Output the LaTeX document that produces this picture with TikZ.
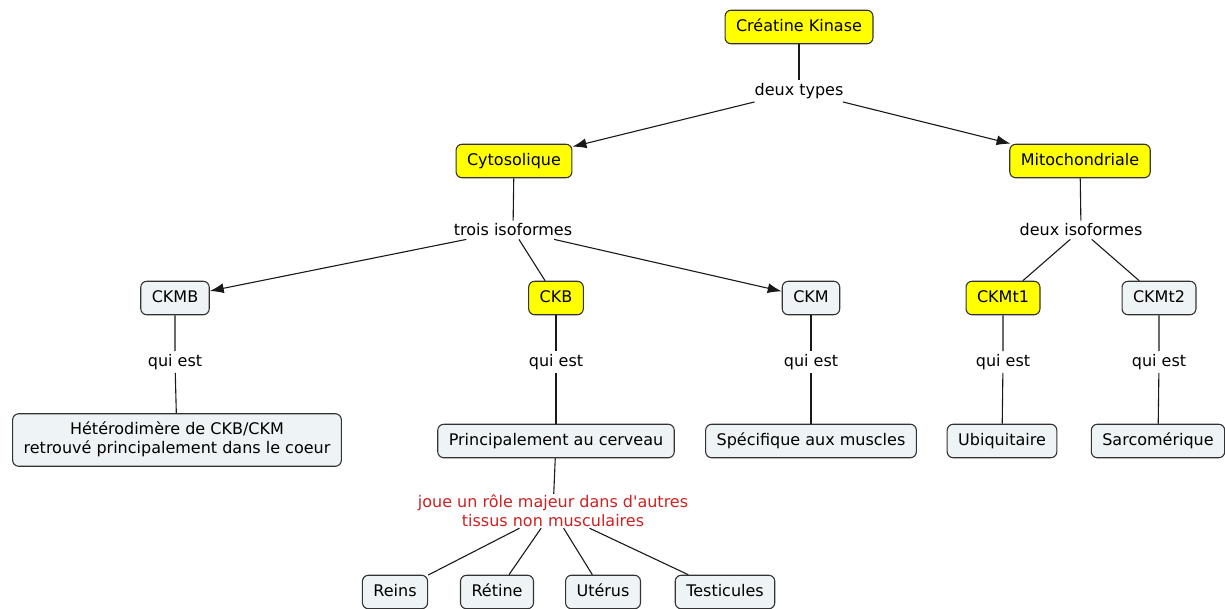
\documentclass[tikz,border=0pt]{standalone}
\usepackage{fontspec}
\setmainfont{DejaVu Sans}[Ligatures=TeXOff]
\usetikzlibrary{arrows.meta,positioning}
\definecolor{conceptgray}{RGB}{238,243,245}
\definecolor{conceptyellow}{RGB}{255,255,0}
\definecolor{linkred}{RGB}{204,34,34}

\begin{document}
\begin{tikzpicture}[x=1pt,y=-1pt,>={Latex[length=14pt,width=10pt]}]
        \tikzstyle{concept}=[draw=black!80, line width=1.1pt, rounded corners=6pt, fill=conceptgray, inner xsep=11pt, inner ysep=9pt, text height=12pt, text depth=3.5pt, align=center, font=\fontsize{16}{19}\selectfont]
        \tikzstyle{keyconcept}=[concept, fill=conceptyellow]
        \tikzstyle{link}=[inner sep=3pt, align=center, font=\fontsize{16}{19}\selectfont]
        \tikzstyle{wire}=[line width=1.1pt, black!90]
        \useasboundingbox (0,0) rectangle (1225,608);

        % Top concept
        \node[keyconcept] (ck) at (799,27) {Créatine Kinase};
        \node[link] (types) at (799,91) {deux types};

        % Two types
        \node[keyconcept] (cyto) at (514,161) {Cytosolique};
        \node[keyconcept] (mito) at (1080,161) {Mitochondriale};
        \node[link] (trois) at (513,230) {trois isoformes};
        \node[link] (deux) at (1081,230) {deux isoformes};

        % Isoforms
        \node[concept] (ckmb) at (175,298) {CKMB};
        \node[keyconcept] (ckb) at (556,298) {CKB};
        \node[concept] (ckm) at (811,298) {CKM};
        \node[keyconcept] (ckmt1) at (1003,298) {CKMt1};
        \node[concept] (ckmt2) at (1159,298) {CKMt2};

        % Linking phrases
        \foreach \name/\x in {ckmb/175, ckb/556, ckm/811, ckmt1/1003, ckmt2/1159}
            \node[link] (qui-\name) at (\x,362) {qui est};

        % Descriptions
        \node[concept, text height=31pt] (hetero) at (177,440) {Hétérodimère de CKB/CKM\\retrouvé principalement dans le coeur};
        \node[concept] (cerveau) at (556,441) {Principalement au cerveau};
        \node[concept] (muscles) at (811,441) {Spécifique aux muscles};
        \node[concept] (ubiq) at (1002,441) {Ubiquitaire};
        \node[concept] (sarco) at (1158,441) {Sarcomérique};

        % Other tissues
        \node[link, text=linkred, inner sep=1pt] (role) at (553,511) {joue un rôle majeur dans d'autres\\tissus non musculaires};
        \node[concept] (reins) at (395,592) {Reins};
        \node[concept] (retine) at (497,592) {Rétine};
        \node[concept] (uterus) at (603,592) {Utérus};
        \node[concept] (testi) at (725,592) {Testicules};

        % Connections
        \draw[wire] (ck) -- (types);
        \draw[wire,->] (types) -- (cyto);
        \draw[wire,->] (types) -- (mito);
        \draw[wire] (cyto) -- (trois);
        \draw[wire] (mito) -- (deux);
        \draw[wire,->] (trois) -- (ckmb);
        \draw[wire] (trois) -- (ckb);
        \draw[wire,->] (trois) -- (ckm);
        \draw[wire] (deux) -- (ckmt1);
        \draw[wire] (deux) -- (ckmt2);
        \draw[wire] (ckmb) -- (qui-ckmb) -- (hetero);
        \draw[wire] (ckb) -- (qui-ckb) -- (cerveau);
        \draw[wire] (ckm) -- (qui-ckm) -- (muscles);
        \draw[wire] (ckmt1) -- (qui-ckmt1) -- (ubiq);
        \draw[wire] (ckmt2) -- (qui-ckmt2) -- (sarco);
        \draw[wire] (cerveau) -- (role);
        \foreach \leaf in {reins, retine, uterus, testi}
            \draw[wire] (role) -- (\leaf);
    \end{tikzpicture}
\end{document}
